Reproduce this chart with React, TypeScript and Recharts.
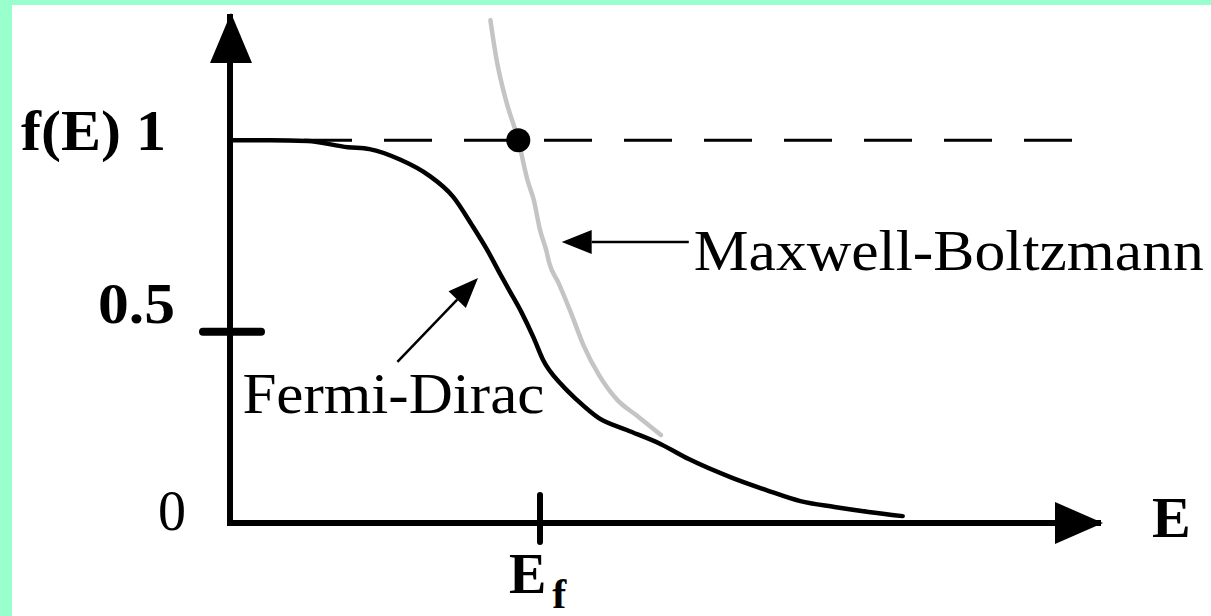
import React from "react";
import {
  LineChart,
  Line,
  XAxis,
  YAxis,
  ReferenceLine,
  ReferenceDot,
} from "recharts";

// Fermi-Dirac occupation, E in units of E_f
const fdEnergy = [
  0, 0.13, 0.25, 0.38, 0.45, 0.55, 0.64, 0.72, 0.78, 0.83, 0.87, 0.9, 0.94,
  0.98, 1.01, 1.07, 1.12, 1.19, 1.28, 1.39, 1.48, 1.62, 1.73, 1.84, 1.95, 2.06,
  2.17,
];
const fdOccupation = [
  1, 1, 0.998, 0.982, 0.977, 0.949, 0.909, 0.852, 0.779, 0.713, 0.653, 0.609,
  0.551, 0.483, 0.426, 0.361, 0.321, 0.274, 0.243, 0.206, 0.167, 0.118, 0.086,
  0.057, 0.042, 0.029, 0.018,
];

// Maxwell-Boltzmann approximation
const mbEnergy = [
  0.84, 0.86, 0.89, 0.93, 0.96, 0.98, 1.0, 1.02, 1.03, 1.06, 1.1, 1.14, 1.19,
  1.25, 1.31, 1.39,
];
const mbOccupation = [
  1.314, 1.21, 1.105, 1.0, 0.895, 0.844, 0.766, 0.713, 0.679, 0.627, 0.549,
  0.465, 0.387, 0.321, 0.282, 0.23,
];

const yTicks = [0, 0.5, 1];
const yTickLabels = ["0", "0.5", "f(E) 1"];
const xTicks = [1];

const E_MAX = 2.8;
const F_MAX = 1.33;

const fdData = fdEnergy.map((e, i) => ({ e, f: fdOccupation[i] }));
const mbData = mbEnergy.map((e, i) => ({ e, f: mbOccupation[i] }));

const SERIF = "'Liberation Serif', 'Times New Roman', serif";

// per-label placement relative to the tick position (text is slightly stretched)
const yLabelStyle: Record<number, { dx: number; dy: number; bold: boolean; w: number }> = {
  0: { dx: -42, dy: 7, bold: false, w: 28 },
  0.5: { dx: -53, dy: -9, bold: true, w: 77 },
  1: { dx: -62, dy: 10, bold: true, w: 145 },
};

function YTick(props: any) {
  const { x, y, payload } = props;
  const v = payload.value;
  const s = yLabelStyle[v];
  const label = yTickLabels[yTicks.indexOf(v)];
  return (
    <g>
      {v === 0.5 && (
        <line x1={x - 25} x2={x + 33} y1={y} y2={y} stroke="#000" strokeWidth={8} strokeLinecap="round" />
      )}
      <text
        x={x + s.dx}
        y={y + s.dy}
        textAnchor="end"
        fontFamily={SERIF}
        fontSize={56}
        fontWeight={s.bold ? 700 : 400}
        textLength={s.w}
        lengthAdjust="spacingAndGlyphs"
        fill="#000"
      >
        {label}
      </text>
    </g>
  );
}

function XTick(props: any) {
  const { x, y } = props;
  return (
    <g>
      <line x1={x} x2={x} y1={y - 30} y2={y + 17} stroke="#000" strokeWidth={6} strokeLinecap="round" />
      <text x={x - 31} y={y + 68} fontFamily={SERIF} fontSize={56} fontWeight={700} fill="#000">
        E
        <tspan dx={6} dy={15} fontSize={42}>
          f
        </tspan>
      </text>
    </g>
  );
}

function XArrowHead(props: any) {
  const { cx, cy } = props;
  return (
    <g>
      <polygon points={`${cx + 5},${cy} ${cx - 43},${cy - 21} ${cx - 43},${cy + 21}`} fill="#000" />
      <text x={cx + 54} y={cy + 14} fontFamily={SERIF} fontSize={58} fontWeight={700} fill="#000">
        E
      </text>
    </g>
  );
}

function YArrowHead(props: any) {
  const { cx, cy } = props;
  return <polygon points={`${cx + 1},${cy - 1} ${cx - 20},${cy + 49} ${cx + 22},${cy + 49}`} fill="#000" />;
}

// pointer line with a filled head at the second point, plus its caption
function pointer(text: string, dx: number, dy: number, width: number) {
  return (props: any) => {
    const { x1, y1, x2, y2 } = props;
    const ang = Math.atan2(y2 - y1, x2 - x1);
    const len = 30;
    const hw = 12;
    const bx = x2 - len * Math.cos(ang);
    const by = y2 - len * Math.sin(ang);
    const px = -Math.sin(ang) * hw;
    const py = Math.cos(ang) * hw;
    return (
      <g>
        <line x1={x1} y1={y1} x2={bx} y2={by} stroke="#000" strokeWidth={2.5} />
        <polygon points={`${x2},${y2} ${bx + px},${by + py} ${bx - px},${by - py}`} fill="#000" />
        <text
          x={x1 + dx}
          y={y1 + dy}
          fontFamily={SERIF}
          fontSize={58}
          textLength={width}
          lengthAdjust="spacingAndGlyphs"
          fill="#000"
        >
          {text}
        </text>
      </g>
    );
  };
}

export default function App() {
  return (
    <div
      style={{
        position: "absolute",
        left: 0,
        top: 0,
        width: 1211,
        height: 616,
        background: "#99FFCC",
        overflow: "hidden",
      }}
    >
      <div style={{ position: "absolute", left: 12, top: 5, width: 1199, height: 611, background: "#fff" }} />
      <div style={{ position: "absolute", left: 0, top: 0 }}>
        <LineChart width={1211} height={616} margin={{ top: 14, right: 113, bottom: 0, left: 0 }}>
          <XAxis
            type="number"
            dataKey="e"
            domain={[0, E_MAX]}
            ticks={xTicks}
            height={93}
            tickSize={0}
            tickLine={false}
            axisLine={{ stroke: "#000", strokeWidth: 6, strokeLinecap: "square" }}
            tick={(p: any) => <XTick {...p} />}
            allowDataOverflow
          />
          <YAxis
            type="number"
            domain={[0, F_MAX]}
            ticks={yTicks}
            width={230}
            tickSize={0}
            tickLine={false}
            axisLine={{ stroke: "#000", strokeWidth: 6, strokeLinecap: "butt" }}
            tick={(p: any) => <YTick {...p} />}
            allowDataOverflow
          />
          <ReferenceLine
            segment={[
              { x: 0, y: 1 },
              { x: 2.72, y: 1 },
            ]}
            stroke="#000"
            strokeWidth={3}
            strokeDasharray="48 32"
            strokeDashoffset={6}
          />
          <Line
            data={mbData}
            dataKey="f"
            type="monotone"
            stroke="#c4c4c4"
            strokeWidth={4.5}
            strokeLinecap="round"
            dot={false}
            isAnimationActive={false}
          />
          <Line
            data={fdData}
            dataKey="f"
            type="monotone"
            stroke="#000"
            strokeWidth={4.5}
            strokeLinecap="round"
            dot={false}
            isAnimationActive={false}
          />
          <ReferenceDot x={mbEnergy[3]} y={mbOccupation[3]} r={12} fill="#000" stroke="none" />
          <ReferenceLine
            segment={[
              { x: 0.54, y: 0.421 },
              { x: 0.8, y: 0.64 },
            ]}
            shape={pointer("Fermi-Dirac", -155, 51, 302)}
          />
          <ReferenceLine
            segment={[
              { x: 1.48, y: 0.734 },
              { x: 1.07, y: 0.734 },
            ]}
            shape={pointer("Maxwell-Boltzmann", 5, 28, 510)}
          />
          <ReferenceDot x={E_MAX} y={0} r={1} shape={(p: any) => <XArrowHead {...p} />} />
          <ReferenceDot x={0} y={F_MAX} r={1} shape={(p: any) => <YArrowHead {...p} />} />
        </LineChart>
      </div>
    </div>
  );
}
